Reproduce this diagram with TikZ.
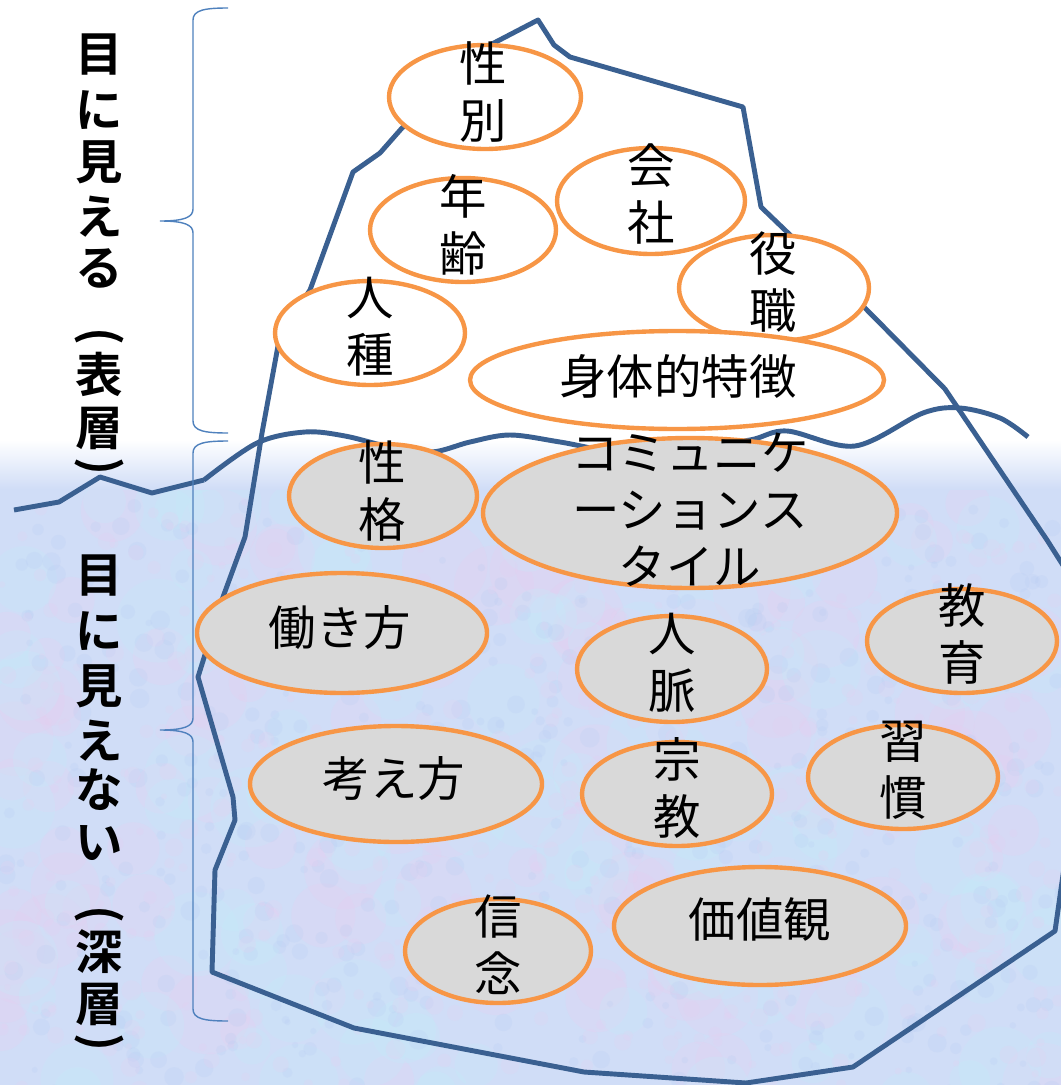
\documentclass[tikz,border=0pt]{standalone}
\usepackage{fontspec}
\newfontfamily\jpfont{Noto Sans CJK JP}
\newfontfamily\jpbold{Noto Sans CJK JP Bold}
\usetikzlibrary{calc}

\definecolor{berg}{RGB}{58,96,145}
\definecolor{rim}{RGB}{247,150,70}
\definecolor{ice}{RGB}{217,217,217}
\definecolor{sea}{RGB}{208,221,247}
\definecolor{seapink}{RGB}{232,206,240}
\definecolor{seacyan}{RGB}{196,236,250}
\definecolor{seablue}{RGB}{182,202,242}
\definecolor{bracecol}{RGB}{79,129,189}

\begin{document}
\begin{tikzpicture}[x=0.02cm, y=-0.02cm,
	berg line/.style={draw=berg, line width=2.8pt, line join=round},
	bubble/.style={draw=rim, line width=2.5pt, fill=#1},
	word/.style={font=\jpfont\fontsize{27}{32.4}\selectfont, align=center, inner sep=0pt},
	side/.style={font=\jpbold\fontsize{27}{32}\selectfont, inner sep=0pt},
	curly/.style={draw=bracecol, line width=0.8pt}]
	\useasboundingbox (0,0) rectangle (1061,1085);
	\clip (0,0) rectangle (1061,1085);

	% sea
	\fill[sea] (0,488) rectangle (1061,1085);
	\pgfmathsetseed{11}
	\foreach \k in {1,...,120} {
		\pgfmathsetmacro\bx{rnd*1061}
		\pgfmathsetmacro\by{500+rnd*600}
		\pgfmathsetmacro\br{18+rnd*25}
		\fill[seapink, opacity=0.25] (\bx,\by) circle [radius=\br];
	}
	\foreach \k in {1,...,120} {
		\pgfmathsetmacro\bx{rnd*1061}
		\pgfmathsetmacro\by{500+rnd*600}
		\pgfmathsetmacro\br{18+rnd*25}
		\fill[seacyan, opacity=0.25] (\bx,\by) circle [radius=\br];
	}
	\foreach \k in {1,...,500} {
		\pgfmathsetmacro\bx{rnd*1061}
		\pgfmathsetmacro\by{500+rnd*600}
		\pgfmathsetmacro\br{3+rnd*7}
		\fill[seablue, opacity=0.2] (\bx,\by) circle [radius=\br];
	}
	\foreach \k in {1,...,500} {
		\pgfmathsetmacro\bx{rnd*1061}
		\pgfmathsetmacro\by{500+rnd*600}
		\pgfmathsetmacro\br{3+rnd*7}
		\fill[seapink, opacity=0.2] (\bx,\by) circle [radius=\br];
	}
	\shade[top color=white, bottom color=sea] (0,440) rectangle (1061,489);

	% water line
	\draw[berg line] (14,510) -- (59,502) -- (100,477) -- (152,493) -- (204,480)
		plot[smooth, tension=0.55] coordinates {(204,480) (257,443) (305,432) (345,436) (390,447) (432,452) (470,442) (510,435) (560,442) (620,452) (690,448) (750,440) (787,431) (855,446) (923,413) (960,408) (1000,418) (1028,437)};

	% iceberg
	\draw[berg line] (538,20) -- (554,45) -- (570,57) -- (743,107) -- (761,207) -- (786,231)
		-- (865,308) -- (945,389) -- (1047,540) -- (1085,600) -- (1068,840) -- (1055,931)
		-- (853,1067) -- (746,1083) -- (584,1072) -- (354,1028) -- (212,972) -- (215,870)
		-- (235,820) -- (233,797) -- (198,677) -- (223,597) -- (245,537) -- (262,433)
		-- (280,335) -- (310,290) -- (353,172) -- (380,153) -- (402,128) -- (490,45) -- cycle;

	% braces
	\draw[curly] (228,8) .. controls (205,8) and (193,10) .. (193,20) -- (193,209)
		.. controls (193,217) and (185,221) .. (160,221) .. controls (185,221) and (193,225) .. (193,233)
		-- (193,421) .. controls (193,431) and (205,433) .. (228,433);
	\draw[curly] (228,441) .. controls (205,441) and (193,443) .. (193,453) -- (193,718)
		.. controls (193,726) and (185,730) .. (160,730) .. controls (185,730) and (193,734) .. (193,742)
		-- (193,1009) .. controls (193,1019) and (205,1021) .. (228,1021);

	% above the water
	\draw[bubble=white] (485,97) ellipse [x radius=96, y radius=52];
	\draw[bubble=white] (463,230) ellipse [x radius=93, y radius=52];
	\draw[bubble=white] (651,201) ellipse [x radius=94, y radius=53];
	\draw[bubble=white] (370,333) ellipse [x radius=95, y radius=52];
	\draw[bubble=white] (774,288) ellipse [x radius=95, y radius=53];
	\draw[bubble=white] (677,380) ellipse [x radius=207, y radius=49];

	% below the water
	\draw[bubble=ice] (383,496) ellipse [x radius=94, y radius=52];
	\draw[bubble=ice] (690,513) ellipse [x radius=207, y radius=75];
	\draw[bubble=ice] (342,633) ellipse [x radius=145, y radius=60];
	\draw[bubble=ice] (672,669) ellipse [x radius=95, y radius=53];
	\draw[bubble=ice] (962,641) ellipse [x radius=95, y radius=52];
	\draw[bubble=ice] (396,784) ellipse [x radius=146, y radius=58];
	\draw[bubble=ice] (677,794) ellipse [x radius=95, y radius=52];
	\draw[bubble=ice] (903,777) ellipse [x radius=95, y radius=52];
	\draw[bubble=ice] (498,951) ellipse [x radius=93, y radius=52];
	\draw[bubble=ice] (760,926) ellipse [x radius=146, y radius=59];

	\node[word] (seibetsu) at (483,92) {性\\別};
	\node[word] (nenrei) at (463,225) {年\\齢};
	\node[word] (kaisha) at (651,194) {会\\社};
	\node[word] (jinshu) at (370,327) {人\\種};
	\node[word] (yakushoku) at (773,282) {役\\職};
	\node[word] (shintai) at (678,376) {身体的特徴};
	\node[word] (seikaku) at (382,491) {性\\格};
	\node[word] (komyu) at (690,510) {コミュニケ\\ーションス\\タイル};
	\node[word] (hataraki) at (340,628) {働き方};
	\node[word] (jinmyaku) at (672,663) {人\\脈};
	\node[word] (kyouiku) at (962,634) {教\\育};
	\node[word] (kangae) at (394,778) {考え方};
	\node[word] (shuukyou) at (677,788) {宗\\教};
	\node[word] (shuukan) at (903,770) {習\\慣};
	\node[word] (shinnen) at (498,945) {信\\念};
	\node[word] (kachikan) at (760,919) {価値観};

	% side labels
	\foreach \ch/\yy [count=\i] in {目/55, に/110, 見/162, え/217, る/268, 表/374, 層/428}
		\node[side] (up\i) at (99,\yy) {\ch};
	\node[side, rotate=-90] (upopen) at (99,336) {(};
	\node[side, rotate=-90] (upclose) at (99,466) {)};
	\foreach \ch/\yy [count=\i] in {目/576, に/631, 見/686, え/741, な/790, い/843, 深/952, 層/1004}
		\node[side] (down\i) at (99,\yy) {\ch};
	\node[side, rotate=-90] (downopen) at (99,914) {(};
	\node[side, rotate=-90] (downclose) at (99,1042) {)};
\end{tikzpicture}
\end{document}
